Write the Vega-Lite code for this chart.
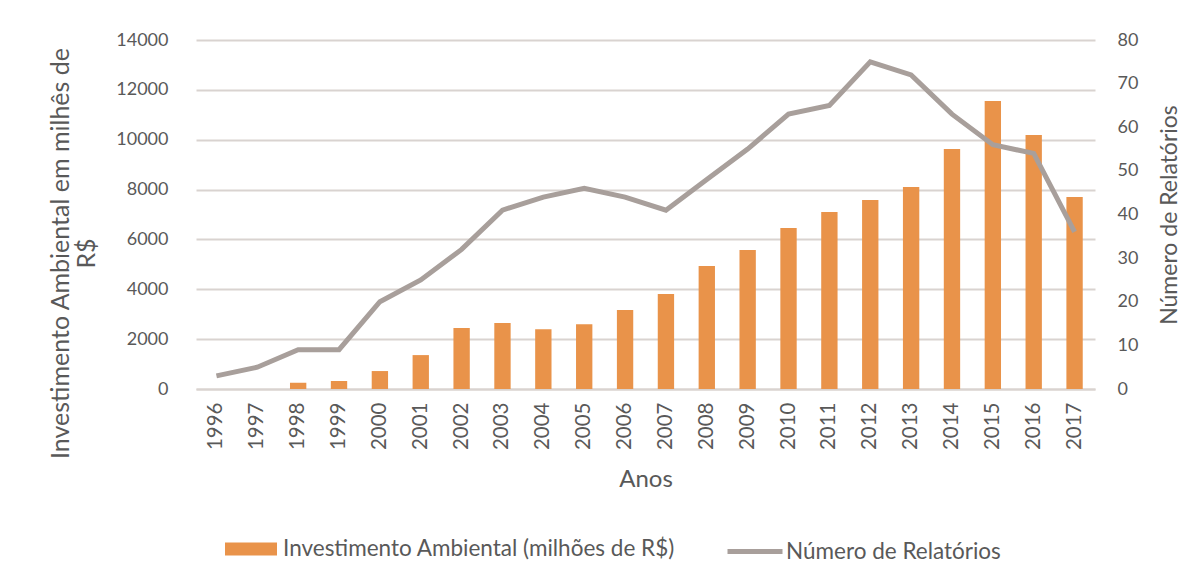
{
  "$schema": "https://vega.github.io/schema/vega-lite/v6.json",
  "autosize": "none",
  "width": 899,
  "height": 349,
  "padding": {"left": 196, "top": 40, "right": 106, "bottom": 192},
  "background": "white",
  "config": {
    "font": "Lato",
    "view": {"stroke": null},
    "axis": {"labelColor": "#595959", "titleColor": "#595959", "labelFont": "Lato", "titleFont": "Lato", "labelFontSize": 18, "titleFontSize": 24, "titleFontWeight": "normal", "ticks": false, "domain": false, "gridColor": "#D9D3D0", "gridWidth": 2, "labelOverlap": false},
    "legend": {"labelFont": "Lato", "labelFontSize": 22.5, "labelColor": "#595959", "labelLimit": 0}
  },
  "data": {"values": [
    {"ano": "1996", "inv": 0, "rel": 3},
    {"ano": "1997", "inv": 0, "rel": 5},
    {"ano": "1998", "inv": 250, "rel": 9},
    {"ano": "1999", "inv": 320, "rel": 9},
    {"ano": "2000", "inv": 720, "rel": 20},
    {"ano": "2001", "inv": 1360, "rel": 25},
    {"ano": "2002", "inv": 2450, "rel": 32},
    {"ano": "2003", "inv": 2650, "rel": 41},
    {"ano": "2004", "inv": 2400, "rel": 44},
    {"ano": "2005", "inv": 2600, "rel": 46},
    {"ano": "2006", "inv": 3170, "rel": 44},
    {"ano": "2007", "inv": 3810, "rel": 41},
    {"ano": "2008", "inv": 4930, "rel": 48},
    {"ano": "2009", "inv": 5575, "rel": 55},
    {"ano": "2010", "inv": 6460, "rel": 63},
    {"ano": "2011", "inv": 7100, "rel": 65},
    {"ano": "2012", "inv": 7580, "rel": 75},
    {"ano": "2013", "inv": 8100, "rel": 72},
    {"ano": "2014", "inv": 9630, "rel": 63},
    {"ano": "2015", "inv": 11550, "rel": 56},
    {"ano": "2016", "inv": 10190, "rel": 54},
    {"ano": "2017", "inv": 7700, "rel": 36}
  ]},
  "encoding": {
    "x": {"field": "ano", "type": "ordinal", "scale": {"paddingInner": 0.6, "paddingOuter": 0.3},
      "axis": {"title": "Anos", "labelAngle": -90, "labelFontSize": 20.5, "labelPadding": 13, "titlePadding": 18, "domain": true, "domainColor": "#D9D3D0", "domainWidth": 2, "grid": false}}
  },
  "layer": [
    {
      "mark": {"type": "bar", "color": "#E9934A"},
      "encoding": {
        "y": {"field": "inv", "type": "quantitative", "scale": {"domain": [0, 14000]},
          "axis": {"title": ["Investimento Ambiental em milhês de", "R$"], "titleFontSize": 25, "titleLineHeight": 26, "titleY": 213, "format": "d", "values": [0,2000,4000,6000,8000,10000,12000,14000], "labelPadding": 28, "titlePadding": 16, "grid": true}},
        "fill": {"datum": "Investimento Ambiental (milhões de R$)", "scale": {"range": ["#E9934A"]},
          "legend": {"title": null, "orient": "none", "legendX": 29, "legendY": 483, "symbolType": "M-1,-0.25H1V0.25H-1Z", "symbolSize": 2704, "symbolOpacity": 1, "symbolStrokeWidth": 0, "labelOffset": 6}}
      }
    },
    {
      "mark": {"type": "line", "color": "#A89F9B", "strokeWidth": 5},
      "encoding": {
        "y": {"field": "rel", "type": "quantitative", "scale": {"domain": [0, 80]},
          "axis": {"title": "Número de Relatórios", "orient": "right", "titleAngle": 270, "titleFontSize": 23, "values": [0,10,20,30,40,50,60,70,80], "labelPadding": 22, "titlePadding": 44, "grid": false}},
        "stroke": {"datum": "Número de Relatórios", "scale": {"range": ["#A89F9B"]},
          "legend": {"title": null, "orient": "none", "legendX": 529, "legendY": 481.5, "symbolType": "stroke", "symbolSize": 3025, "symbolStrokeWidth": 5, "labelOffset": 1}}
      }
    }
  ],
  "resolve": {"scale": {"y": "independent"}}
}
